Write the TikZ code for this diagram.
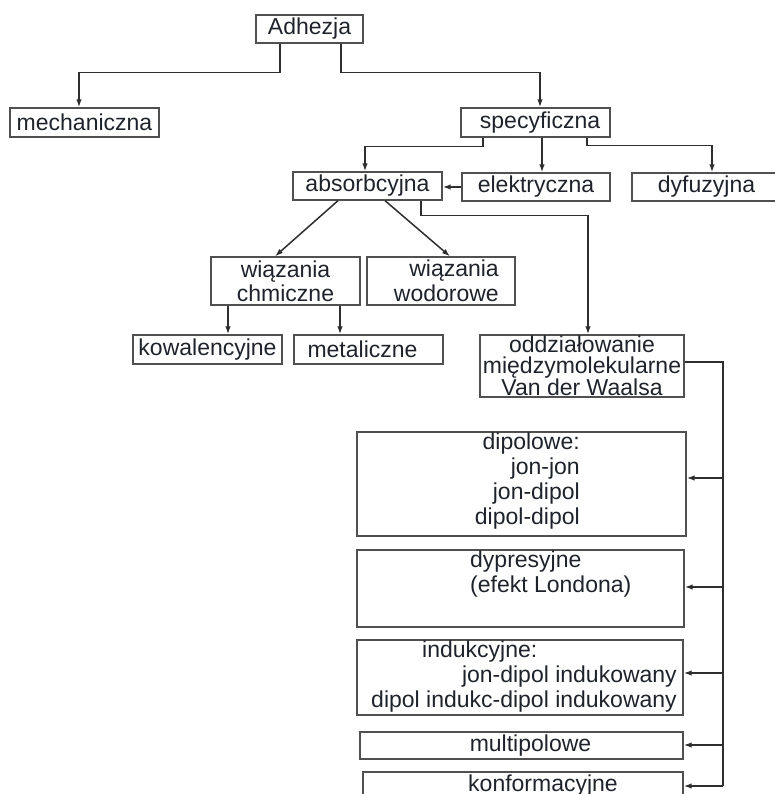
\documentclass[tikz,border=0pt]{standalone}
\usepackage{fontspec}
\setmainfont{Liberation Sans}
\usetikzlibrary{arrows.meta,calc,positioning}
\definecolor{linegray}{HTML}{2E2E2E}
\definecolor{boxgray}{HTML}{505050}
\definecolor{textdark}{HTML}{1E232B}

\begin{document}
\begin{tikzpicture}[x=1pt,y=-1pt,
  box/.style={draw=boxgray,line width=1.3pt,inner sep=0pt,text=textdark,
    font=\fontsize{23}{24}\selectfont,align=center},
  txt/.style={inner sep=0pt,text=textdark,font=\fontsize{23}{25}\selectfont},
  conn/.style={draw=linegray,line width=1.5pt},
  arr/.style={conn,-{Latex[length=8pt,width=5.5pt]}}]
  \useasboundingbox (0,0) rectangle (774,794);
  % upper tree
  \node[box,minimum width=107pt,minimum height=28pt] (adh) at (309.5,29) {Adhezja};
  \node[box,minimum width=149pt,minimum height=29pt] (mech) at (84.5,122.5) {mechaniczna};
  \node[box,minimum width=149pt,minimum height=29pt] (spec) at (535.5,122.5) {\hspace*{9pt}specyficzna};
  \node[box,minimum width=149pt,minimum height=28pt] (abs) at (367.5,186) {absorbcyjna};
  \node[box,minimum width=148pt,minimum height=28pt] (elek) at (536,187) {elektryczna};
  \node[box,minimum width=149pt,minimum height=28pt] (dyf) at (706.5,187) {dyfuzyjna};
  \node[box,minimum width=149pt,minimum height=48pt] (chm) at (285.5,281) {wiązania\\chmiczne};
  \node[box,minimum width=148pt,minimum height=48pt] (wod) at (441,281) {};
  \node[txt,anchor=east,align=right] (wodt) at (499,281) {wiązania\\wodorowe};
  \node[box,minimum width=149pt,minimum height=29pt] (kow) at (207.5,349.5) {kowalencyjne};
  \node[box,minimum width=149pt,minimum height=29pt] (met) at (368.5,349.5) {metaliczne\hspace*{12pt}};
  \node[box,minimum width=204pt,minimum height=62pt,font=\fontsize{23}{21}\selectfont] (odd) at (582,366)
    {oddziałowanie\\międzymolekularne\\Van der Waalsa};
  % lower column
  \node[box,minimum width=329pt,minimum height=104pt] (dip) at (521.5,484) {};
  \node[txt,anchor=north east,align=right] (dipt) at (580,433) {dipolowe:\\jon-jon\\jon-dipol\\dipol-dipol};
  \node[box,minimum width=327pt,minimum height=77pt] (dyp) at (520.5,588.5) {};
  \node[txt,anchor=north west,align=left] (dypt) at (470,551) {dypresyjne\\(efekt Londona)};
  \node[box,minimum width=326pt,minimum height=75pt] (ind) at (520,677.5) {};
  \node[txt,anchor=north west] (indt) at (422,641) {indukcyjne:};
  \node[txt,anchor=north east,align=right] (indt2) at (677,666) {jon-dipol indukowany\\dipol indukc-dipol indukowany};
  \node[box,minimum width=323pt,minimum height=27pt] (mul) at (521.5,745.5) {};
  \node[txt] (mult) at (530.5,746) {multipolowe};
  \node[box,minimum width=320pt,minimum height=28pt] (konf) at (523,786) {};
  \node[txt,anchor=north] (konft) at (543,775) {konformacyjne};
  % connectors
  \draw[arr] ([xshift=-29.5pt]adh.south) -- ++(0,29) -| ([xshift=-5.5pt]mech.north);
  \draw[arr] ([xshift=31.5pt]adh.south) -- ++(0,29) -| ([xshift=4.5pt]spec.north);
  \draw[arr] ([xshift=-52.5pt]spec.south) -- ++(0,9) -| ([xshift=-2.5pt]abs.north);
  \draw[arr] ([xshift=6.5pt]spec.south) -- ([xshift=6.5pt]spec.south |- elek.north);
  \draw[arr] ([xshift=51.5pt]spec.south) -- ++(0,8) -| ([xshift=5.5pt]dyf.north);
  \draw[arr] (elek.west) -- (elek.west -| abs.east);
  \draw[arr] ([xshift=-29.5pt]abs.south) -- ([xshift=-10.5pt]chm.north);
  \draw[arr] ([xshift=17.5pt]abs.south) -- ([xshift=9pt]wod.north);
  \draw[arr] ([xshift=53.5pt]abs.south) -- ++(0,15) -| ([xshift=6pt]odd.north);
  \draw[arr] ([xshift=-57.5pt]chm.south) -- ([xshift=-57.5pt]chm.south |- kow.north);
  \draw[arr] ([xshift=54.5pt]chm.south) -- ([xshift=54.5pt]chm.south |- met.north);
  \coordinate (bus) at (723,362);
  \draw[conn] ([yshift=4pt]odd.east) -- (bus) -- (bus |- konf.east);
  \foreach \n/\s in {dip/6,dyp/1.5,ind/4.5,mul/0.5,konf/0}
    \draw[arr] ([yshift=\s pt]\n.east -| bus) -- ([yshift=\s pt]\n.east);
\end{tikzpicture}
\end{document}
